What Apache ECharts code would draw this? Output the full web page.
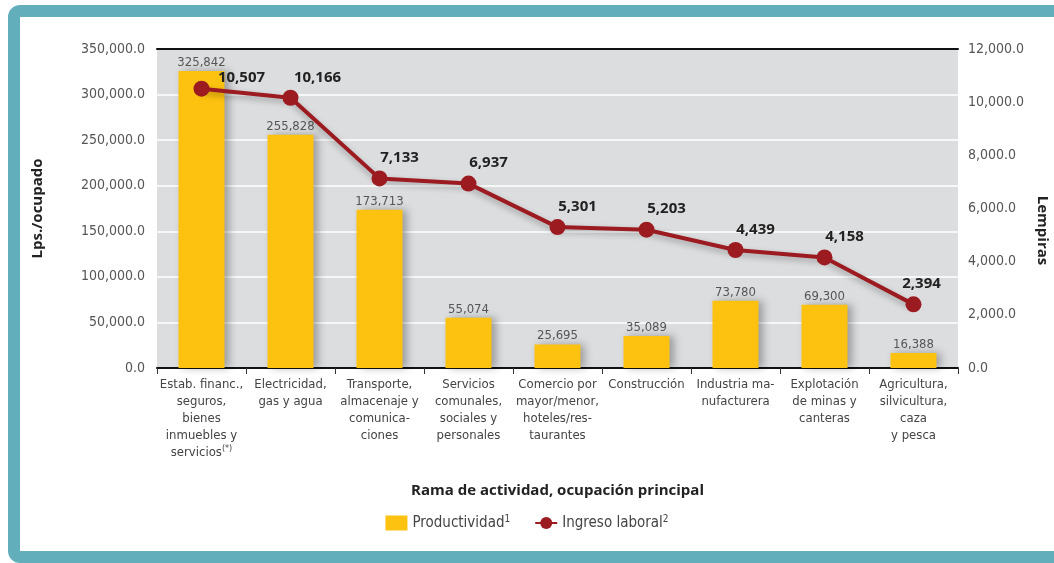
<!DOCTYPE html>
<html>
<head>
<meta charset="utf-8">
<script src="https://cdn.jsdelivr.net/npm/echarts@6/dist/echarts.min.js"></script>
<style>
  html, body { margin: 0; padding: 0; background: #fff; overflow: hidden; }
  #frame {
    position: absolute; left: 8px; top: 5px; width: 1060px; height: 534px;
    border: 12px solid #62aebb; border-radius: 12px; background: #fff;
  }
  #chart { position: absolute; left: 0; top: 0; width: 1054px; height: 563px; }
</style>
</head>
<body>
<div id="frame"></div>
<div id="chart"></div>
<script>
const categories = [
  'Estab. financ.,\nseguros,\nbienes\ninmuebles y\nservicios{sup|(*)}',
  'Electricidad,\ngas y agua',
  'Transporte,\nalmacenaje y\ncomunica-\nciones',
  'Servicios\ncomunales,\nsociales y\npersonales',
  'Comercio por\nmayor/menor,\nhoteles/res-\ntaurantes',
  'Construcción',
  'Industria ma-\nnufacturera',
  'Explotación\nde minas y\ncanteras',
  'Agricultura,\nsilvicultura,\ncaza\ny pesca'
];
const productividad = [325842, 255828, 173713, 55074, 25695, 35089, 73780, 69300, 16388];
const ingresoLaboral = [10507, 10166, 7133, 6937, 5301, 5203, 4439, 4158, 2394];

const font = "'Liberation Sans Narrow', 'DejaVu Sans Condensed', sans-serif";
const fontBold = "'Open Sans', 'Liberation Sans', sans-serif";
const fmt = v => v.toLocaleString('en-US');
const fmt1 = v => v.toLocaleString('en-US', {minimumFractionDigits: 1, maximumFractionDigits: 1});

const chart = echarts.init(document.getElementById('chart'));

const lineData = ingresoLaboral.map((v, i) => {
  if (i === 0) return {value: v, label: {offset: [40, 10]}};
  if (i === 1) return {value: v, label: {offset: [27, 0]}};
  if (i === 8) return {value: v, label: {offset: [8, 0]}};
  return v;
});

chart.setOption({
  animation: false,
  grid: {
    left: 157, right: 96, top: 49, bottom: 195,
    outerBoundsMode: 'none', containLabel: false,
    show: true, backgroundColor: '#dcdddf', borderWidth: 0
  },
  legend: {
    top: 509, left: 'center',
    itemWidth: 22, itemHeight: 15, itemGap: 24,
    data: [{name: 'Productividad', icon: 'rect'}, {name: 'Ingreso laboral'}],
    formatter: n => n === 'Productividad' ? 'Productividad{sup|1}' : 'Ingreso laboral{sup|2}',
    textStyle: {
      fontFamily: font, fontSize: 15, color: '#444',
      rich: {sup: {fontFamily: font, fontSize: 10, color: '#444', verticalAlign: 'top', padding: [0, 0, 8, 0]}}
    }
  },
  xAxis: [{
    type: 'category',
    data: categories,
    name: 'Rama de actividad, ocupación principal',
    nameLocation: 'middle',
    nameGap: 115,
    nameTextStyle: {fontFamily: fontBold, fontWeight: 'bold', fontSize: 15, color: '#222'},
    axisLine: {lineStyle: {color: '#111', width: 2}},
    axisTick: {show: true, length: 6, lineStyle: {color: '#333', width: 1}},
    axisLabel: {
      interval: 0, fontFamily: font, fontSize: 13, color: '#444', lineHeight: 17, margin: 8,
      rich: {sup: {fontFamily: font, fontSize: 9, color: '#444', verticalAlign: 'top', padding: [0, 0, 6, 0]}}
    }
  }, {
    type: 'category',
    position: 'top',
    data: categories,
    axisLine: {onZero: false, lineStyle: {color: '#111', width: 2}},
    axisTick: {show: false},
    axisLabel: {show: false}
  }],
  yAxis: [{
    type: 'value',
    min: 0, max: 350000, interval: 50000,
    name: 'Lps./ocupado',
    nameLocation: 'middle',
    nameGap: 112,
    nameRotate: 90,
    nameTextStyle: {fontFamily: fontBold, fontWeight: 'bold', fontSize: 15, color: '#222'},
    axisLine: {show: false},
    axisTick: {show: false},
    axisLabel: {formatter: fmt1, fontFamily: font, fontSize: 14, color: '#555', margin: 12},
    splitLine: {lineStyle: {color: '#fff', width: 1.5}}
  }, {
    type: 'value',
    min: 0, max: 12000, interval: 2000,
    name: 'Lempiras',
    nameLocation: 'middle',
    nameGap: 76,
    nameRotate: -90,
    nameTextStyle: {fontFamily: fontBold, fontWeight: 'bold', fontSize: 15, color: '#222', padding: [0, 0, 0, 44]},
    axisLine: {show: false},
    axisTick: {show: false},
    axisLabel: {formatter: fmt1, fontFamily: font, fontSize: 14, color: '#555', margin: 10},
    splitLine: {show: false}
  }],
  series: [{
    name: 'Productividad',
    type: 'bar',
    data: productividad,
    barWidth: 46,
    itemStyle: {color: '#fdc110', shadowColor: 'rgba(0,0,0,0.3)', shadowBlur: 8, shadowOffsetX: 4, shadowOffsetY: 0},
    label: {show: true, position: 'top', distance: 2, formatter: p => fmt(p.value), fontFamily: font, fontSize: 13, color: '#555'}
  }, {
    name: 'Ingreso laboral',
    type: 'line',
    yAxisIndex: 1,
    data: lineData,
    symbol: 'circle',
    symbolSize: 16,
    lineStyle: {color: '#9b1b20', width: 4, shadowColor: 'rgba(0,0,0,0.3)', shadowBlur: 6, shadowOffsetY: 3},
    itemStyle: {color: '#9b1b20'},
    label: {
      show: true, position: 'top', distance: 5, offset: [20, 0],
      formatter: p => fmt(p.value),
      fontFamily: fontBold, fontWeight: 'bold', fontSize: 15, color: '#222'
    },
    z: 5
  }]
});
</script>
</body>
</html>
